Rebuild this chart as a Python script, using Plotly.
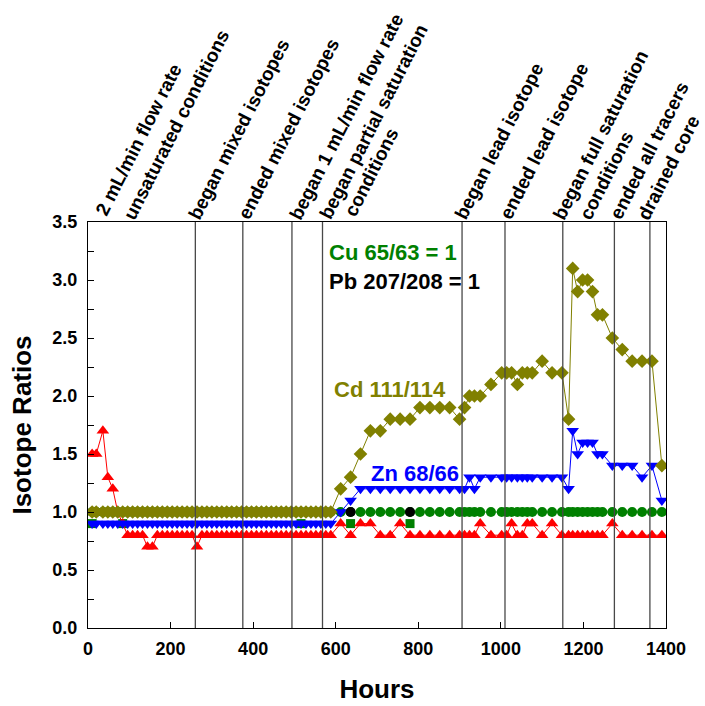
import plotly.graph_objects as go

# ---------------- data ----------------
hours = [10, 20, 36, 48, 60, 72, 84, 96,
         108, 120, 132, 144, 156, 168, 180, 192, 204, 216,
         228, 240, 252, 264, 276, 288, 300, 312, 324, 336,
         348, 360, 372, 384, 396, 408, 420, 432, 444, 456,
         468, 480, 492, 504, 516, 528, 540, 552, 564, 576, 588,
         612, 636, 660, 684, 708, 732, 756, 780, 804, 828, 852, 876, 900,
         912, 924, 936, 950, 976, 1002, 1014, 1026, 1040, 1052, 1064, 1076,
         1100, 1124, 1148, 1164, 1174, 1186, 1198, 1210, 1222, 1234, 1246,
         1270, 1294, 1318, 1342, 1366, 1390]

cd_111_114 = [1.0, 1.0, 1.0, 1.0, 1.0, 1.0, 1.0, 1.0,
              1.0, 1.0, 1.0, 1.0, 1.0, 1.0, 1.0, 1.0, 1.0, 1.0,
              1.0, 1.0, 1.0, 1.0, 1.0, 1.0, 1.0, 1.0, 1.0, 1.0,
              1.0, 1.0, 1.0, 1.0, 1.0, 1.0, 1.0, 1.0, 1.0, 1.0,
              1.0, 1.0, 1.0, 1.0, 1.0, 1.0, 1.0, 1.0, 1.0, 1.0, 1.0,
              1.2, 1.3, 1.5, 1.7, 1.7, 1.8, 1.8, 1.8, 1.9, 1.9, 1.9, 1.9, 1.8,
              1.9, 2.0, 2.0, 2.0, 2.1, 2.2, 2.2, 2.2, 2.1, 2.2, 2.2, 2.2,
              2.3, 2.2, 2.2, 1.8, 3.1, 2.9, 3.0, 3.0, 2.9, 2.7, 2.7,
              2.5, 2.4, 2.3, 2.3, 2.3, 1.4]

zn_68_66 = [0.9, 0.9, 0.9, 0.9, 0.9, 0.9, 0.9, 0.9,
            0.9, 0.9, 0.9, 0.9, 0.9, 0.9, 0.9, 0.9, 0.9, 0.9,
            0.9, 0.9, 0.9, 0.9, 0.9, 0.9, 0.9, 0.9, 0.9, 0.9,
            0.9, 0.9, 0.9, 0.9, 0.9, 0.9, 0.9, 0.9, 0.9, 0.9,
            0.9, 0.9, 0.9, 0.9, 0.9, 0.9, 0.9, 0.9, 0.9, 0.9, 0.9,
            1.0, 1.1, 1.2, 1.2, 1.2, 1.2, 1.2, 1.2, 1.2, 1.2, 1.2, 1.2, 1.2,
            1.2, 1.3, 1.2, 1.3, 1.3, 1.3, 1.3, 1.3, 1.3, 1.3, 1.3, 1.3,
            1.3, 1.3, 1.3, 1.2, 1.7, 1.5, 1.6, 1.6, 1.6, 1.5, 1.5,
            1.4, 1.4, 1.4, 1.3, 1.4, 1.1]

red_ratio = [1.5, 1.5, 1.7, 1.3, 1.2, 1.0, 0.9, 0.8,
             0.8, 0.8, 0.8, 0.7, 0.7, 0.8, 0.8, 0.8, 0.8, 0.8,
             0.8, 0.8, 0.8, 0.7, 0.8, 0.8, 0.8, 0.8, 0.8, 0.8,
             0.8, 0.8, 0.8, 0.8, 0.8, 0.8, 0.8, 0.8, 0.8, 0.8,
             0.8, 0.8, 0.8, 0.8, 0.8, 0.8, 0.8, 0.8, 0.8, 0.8, 0.8,
             0.9, 0.8, 0.9, 0.9, 0.8, 0.8, 0.9, 0.8, 0.8, 0.8, 0.8, 0.8, 0.8,
             0.8, 0.8, 0.8, 0.9, 0.8, 0.8, 0.8, 0.9, 0.8, 0.8, 0.9, 0.9,
             0.8, 0.9, 0.8, 0.8, 0.8, 0.8, 0.8, 0.8, 0.8, 0.8, 0.8,
             0.9, 0.8, 0.8, 0.8, 0.8, 0.8]

cu_65_63 = [1.0, 1.0, 1.0, 1.0, 1.0, 1.0, 1.0, 1.0,
            1.0, 1.0, 1.0, 1.0, 1.0, 1.0, 1.0, 1.0, 1.0, 1.0,
            1.0, 1.0, 1.0, 1.0, 1.0, 1.0, 1.0, 1.0, 1.0, 1.0,
            1.0, 1.0, 1.0, 1.0, 1.0, 1.0, 1.0, 1.0, 1.0, 1.0,
            1.0, 1.0, 1.0, 1.0, 1.0, 1.0, 1.0, 1.0, 1.0, 1.0, 1.0,
            1.0, 1.0, 1.0, 1.0, 1.0, 1.0, 1.0, 1.0, 1.0, 1.0, 1.0, 1.0, 1.0,
            1.0, 1.0, 1.0, 1.0, 1.0, 1.0, 1.0, 1.0, 1.0, 1.0, 1.0, 1.0,
            1.0, 1.0, 1.0, 1.0, 1.0, 1.0, 1.0, 1.0, 1.0, 1.0, 1.0,
            1.0, 1.0, 1.0, 1.0, 1.0, 1.0]

cu_low_hours = [10, 84, 516, 636, 780]
cu_low_values = [0.9, 0.9, 0.9, 0.9, 0.9]

pb_hours = [636, 780]
pb_207_208 = [1.0, 1.0]

event_hours = [260, 375, 494, 568, 906, 1010, 1150, 1275, 1361]

label_texts = ["2 mL/min flow rate", "unsaturated conditions",
               "began mixed isotopes", "ended mixed isotopes",
               "began 1 mL/min flow rate", "began partial saturation", "conditions",
               "began lead isotope", "ended lead isotope",
               "began full saturation", "conditions",
               "ended all tracers", "drained core"]
label_hours = [0, 0, 260, 375, 494, 568, 568, 906, 1010, 1150, 1150, 1275, 1361]

series_labels = ["Cu 65/63 = 1", "Pb 207/208 = 1", "Cd 111/114", "Zn 68/66"]
series_label_x = [578, 578, 592, 681]
series_label_y = [3.24, 2.99, 2.06, 1.33]

# ---------------- styles ----------------
FONT = "Liberation Sans, Arial, Helvetica, sans-serif"
label_xshift = [2, 30, -12, -10, -8, -9, 16, -13, -11, -15, 11, -10, -18]
label_yshift = [2, -2, -2, -2, -2, -2, 1, -2, -2, -2, -2, -2, -2]
series_label_colors = ["#008000", "#000000", "#808000", "#0000FF"]
series_label_sizes = [22, 22, 22, 22]

fig = go.Figure()

fig.add_trace(go.Scatter(x=hours, y=cu_65_63, mode="lines+markers",
                         line=dict(color="#008000", width=1),
                         marker=dict(symbol="circle", size=10, color="#008000")))
fig.add_trace(go.Scatter(x=cu_low_hours, y=cu_low_values, mode="markers",
                         marker=dict(symbol="square", size=9, color="#008000")))
fig.add_trace(go.Scatter(x=hours, y=red_ratio, mode="lines+markers",
                         line=dict(color="#FF0000", width=1),
                         marker=dict(symbol="triangle-up", size=11, color="#FF0000")))
fig.add_trace(go.Scatter(x=hours, y=zn_68_66, mode="lines+markers",
                         line=dict(color="#0000FF", width=1),
                         marker=dict(symbol="triangle-down", size=11, color="#0000FF")))
fig.add_trace(go.Scatter(x=hours, y=cd_111_114, mode="lines+markers",
                         line=dict(color="#808000", width=1),
                         marker=dict(symbol="diamond", size=10.5, color="#808000")))
fig.add_trace(go.Scatter(x=pb_hours, y=pb_207_208, mode="markers",
                         marker=dict(symbol="circle", size=10, color="#000000")))

for h in event_hours:
    fig.add_shape(type="line", xref="x", yref="paper", x0=h, x1=h, y0=0, y1=1,
                  line=dict(color="#484848", width=1.3), layer="above")

for txt, h, xs, ys in zip(label_texts, label_hours, label_xshift, label_yshift):
    fig.add_annotation(x=h, y=1, xref="x", yref="paper", text=txt, showarrow=False,
                       textangle=-63, xanchor="left", yanchor="bottom",
                       xshift=xs, yshift=ys, borderpad=0,
                       font=dict(family=FONT, size=19, color="black", weight="bold"))

for txt, x, y, c, s in zip(series_labels, series_label_x, series_label_y,
                           series_label_colors, series_label_sizes):
    fig.add_annotation(x=x, y=y, xref="x", yref="y", text=txt, showarrow=False,
                       xanchor="left", yanchor="middle",
                       font=dict(family=FONT, size=s, color=c, weight="bold"))

axis_common = dict(showline=True, linecolor="black", linewidth=1, mirror=True,
                   ticks="inside", ticklen=6, tickcolor="black", tickwidth=1,
                   showgrid=False, zeroline=False, automargin=False,
                   tickfont=dict(family=FONT, size=18, color="black", weight="bold"))

fig.update_xaxes(range=[0, 1400], dtick=200, tick0=0, ticklabelstandoff=4,
                 title=dict(text="Hours", standoff=22,
                            font=dict(family=FONT, size=26, color="black", weight="bold")),
                 **axis_common)
fig.update_yaxes(range=[0, 3.5], dtick=0.5, tick0=0, tickformat=".1f", ticklabelstandoff=6,
                 minor=dict(dtick=0.25, ticks="inside", ticklen=6, tickcolor="black"),
                 title=dict(text="Isotope Ratios", standoff=13,
                            font=dict(family=FONT, size=26, color="black", weight="bold")),
                 **axis_common)

fig.update_layout(width=705, height=706, showlegend=False,
                  paper_bgcolor="white", plot_bgcolor="white",
                  margin=dict(l=88, r=39, t=222, b=78, autoexpand=False))

fig.write_html("out.html")
